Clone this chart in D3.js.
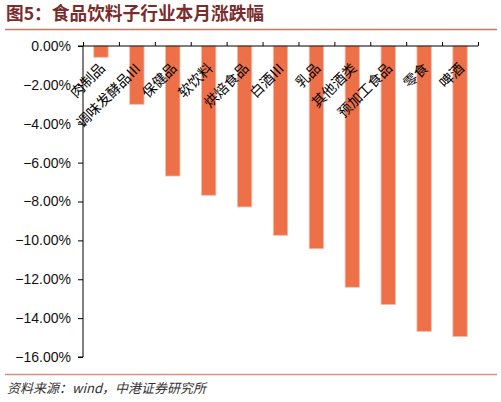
<!DOCTYPE html>
<html><head><meta charset="utf-8">
<script src="https://cdn.jsdelivr.net/npm/d3@7/dist/d3.min.js"></script>
<style>
html,body{margin:0;padding:0;background:#fff;}
svg{display:block;}
</style></head>
<body>
<svg id="chart" width="501" height="402"></svg>
<script>
const categories = ["肉制品","调味发酵品Ⅲ","保健品","软饮料","烘焙食品","白酒Ⅲ","乳品","其他酒类","预加工食品","零食","啤酒"];
const values = [-0.58,-3.00,-6.69,-7.68,-8.28,-9.74,-10.43,-12.41,-13.30,-14.68,-14.95];
const yTicks = [0,-2,-4,-6,-8,-10,-12,-14,-16];
const title = "图5：食品饮料子行业本月涨跌幅";
const source = "资料来源：wind，中港证券研究所";

const svg = d3.select("#chart");
const L = 83, R = 478, T = 46, B = 357;

// title
svg.append("text").attr("x",6).attr("y",19.5)
  .attr("font-family","'Noto Sans CJK SC'").attr("font-weight","bold")
  .attr("font-size","17.7px").attr("fill","#7a2c2c").text(title);
svg.append("line").attr("x1",5).attr("x2",497).attr("y1",29.5).attr("y2",29.5)
  .attr("stroke","#c9765e").attr("stroke-width",1.5);

const x = d3.scaleBand().domain(categories).range([L,R]).paddingInner(0.6).paddingOuter(0.3);
const xb = d3.scaleLinear().domain([0,categories.length]).range([L,R]);
const y = d3.scaleLinear().domain([0,-16]).range([T,B]);

// bars
svg.append("g").selectAll("rect").data(values).join("rect")
  .attr("x",(d,i)=>x(categories[i]))
  .attr("width",x.bandwidth())
  .attr("y",y(0))
  .attr("height",d=>y(d)-y(0))
  .attr("fill","#ee7049").attr("stroke","#f7bba8").attr("stroke-width",0.8);

// y axis
const yAxis = svg.append("g").attr("transform",`translate(${L},0)`)
  .call(d3.axisLeft(y).tickValues(yTicks).tickSize(5).tickPadding(7)
    .tickFormat(d=>d3.format(".2f")(d)+"%"));
yAxis.select(".domain").attr("stroke","#000").attr("d",`M-5,${T}H0V${B}H-5`);
yAxis.selectAll("text").attr("font-family","'Liberation Sans',Arial").attr("font-size","14px").attr("fill","#111");
yAxis.selectAll(".tick line").attr("stroke","#000");

// x axis (top, ticks at band boundaries)
const xAxis = svg.append("g").attr("transform",`translate(0,${T})`)
  .call(d3.axisTop(xb).tickValues(d3.range(0,categories.length+1)).tickSize(4).tickFormat(""));
xAxis.select(".domain").attr("stroke","#000").attr("d",`M${L},0H${R}`);
xAxis.selectAll(".tick line").attr("stroke","#000");

// category labels
svg.append("g").selectAll("text").data(categories).join("text")
  .attr("transform",d=>`translate(${x(d)+x.bandwidth()/2+5},${69}) rotate(-45)`)
  .attr("text-anchor","end")
  .attr("font-family","'Noto Sans CJK SC'").attr("font-size","14px").attr("fill","#000")
  .text(d=>d);

// footer
svg.append("line").attr("x1",5).attr("x2",497).attr("y1",374.5).attr("y2",374.5)
  .attr("stroke","#d4917f").attr("stroke-width",1.5);
svg.append("text").attr("x",7).attr("y",393)
  .attr("font-family","'Noto Sans CJK SC'").attr("font-style","italic")
  .attr("font-size","13px").attr("fill","#333").text(source);
</script>
</body></html>
